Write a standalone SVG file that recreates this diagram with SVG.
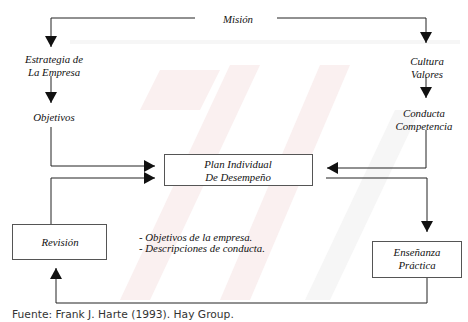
<svg xmlns="http://www.w3.org/2000/svg" width="468" height="322" viewBox="0 0 468 322">
<style>
  .t { font-family: "Liberation Serif", "DejaVu Serif", serif; font-style: italic; font-size: 10.8px; fill: #111; }
  .c { text-anchor: middle; }
  .box { fill: #fff; stroke: #555; stroke-width: 1; }
  .ln { fill: none; stroke: #222; stroke-width: 1; }
  .src { font-family: "DejaVu Sans", sans-serif; font-size: 10.7px; fill: #333; }
  .wm { fill: #faf0f0; }
  .wg { fill: #f6f6f6; }
</style>
<defs>
  <marker id="ah" markerUnits="userSpaceOnUse" markerWidth="11" markerHeight="12" refX="11" refY="6" orient="auto">
    <path d="M0,0 L11,6 L0,12 z" fill="#111"/>
  </marker>
</defs>
<rect width="468" height="322" fill="#fff"/>
<g id="watermark">
  <polygon class="wg" points="70,40 460,40 460,44 70,44"/>
  <polygon class="wm" points="160,70 220,70 200,110 140,110"/>
  <polygon class="wm" points="230,65 260,65 150,300 120,300"/>
  <polygon class="wm" points="320,65 350,65 250,300 220,300"/>
  <polygon class="wg" points="395,110 420,110 330,300 305,300"/>
</g>
<g id="connectors">
  <path class="ln" d="M195,18 H51 V47" marker-end="url(#ah)"/>
  <path class="ln" d="M51,76 V103" marker-end="url(#ah)"/>
  <path class="ln" d="M51,127 V166 H155" marker-end="url(#ah)"/>
  <path class="ln" d="M51,224 V178 H155" marker-end="url(#ah)"/>
  <path class="ln" d="M277,18 H426 V43" marker-end="url(#ah)"/>
  <path class="ln" d="M426,77 V98" marker-end="url(#ah)"/>
  <path class="ln" d="M426,130 V168 H327" marker-end="url(#ah)"/>
  <path class="ln" d="M326,178 H427 V232" marker-end="url(#ah)"/>
  <path class="ln" d="M427,278 V303 H56 V268" marker-end="url(#ah)"/>
</g>
<g id="mision">
  <text class="t c" x="238" y="23">Misión</text>
</g>
<g id="estrategia">
  <text class="t c" x="54" y="63">Estrategia de</text>
  <text class="t c" x="54" y="76">La Empresa</text>
</g>
<g id="objetivos">
  <text class="t c" x="54" y="121">Objetivos</text>
</g>
<g id="cultura">
  <text class="t c" x="427" y="65">Cultura</text>
  <text class="t c" x="427" y="78">Valores</text>
</g>
<g id="conducta">
  <text class="t c" x="424" y="117">Conducta</text>
  <text class="t c" x="424" y="130">Competencia</text>
</g>
<g id="plan">
  <rect class="box" x="164.5" y="154.5" width="148" height="31"/>
  <text class="t c" x="238" y="168">Plan Individual</text>
  <text class="t c" x="238" y="181">De Desempeño</text>
</g>
<g id="revision">
  <rect class="box" x="12.5" y="224.5" width="94" height="35"/>
  <text class="t c" x="60" y="246">Revisión</text>
</g>
<g id="ensenanza">
  <rect class="box" x="372.5" y="241.5" width="89" height="36"/>
  <text class="t c" x="417" y="256">Enseñanza</text>
  <text class="t c" x="417" y="269">Práctica</text>
</g>
<g id="notas">
  <text class="t" x="139" y="241">- Objetivos de la empresa.</text>
  <text class="t" x="139" y="252">- Descripciones de conducta.</text>
</g>
<text class="src" x="12" y="318">Fuente: Frank J. Harte (1993). Hay Group.</text>
</svg>
